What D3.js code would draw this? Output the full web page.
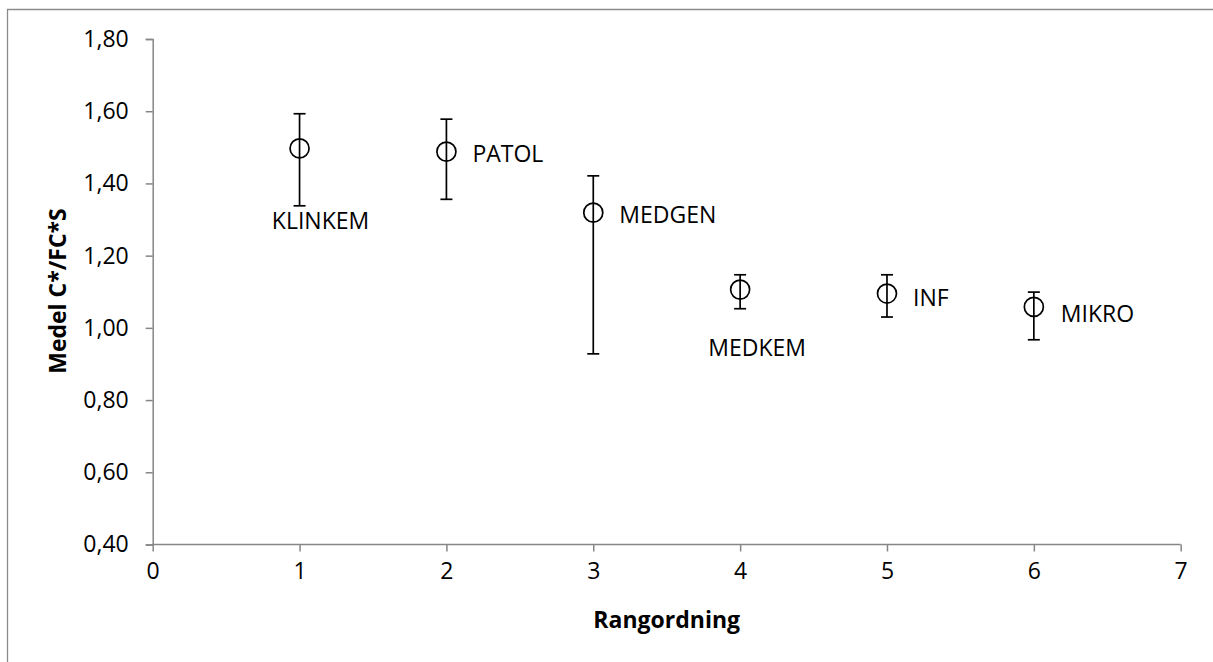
<!DOCTYPE html>
<html>
<head>
<meta charset="utf-8">
<script src="https://cdn.jsdelivr.net/npm/d3@7"></script>
<style>
  body { margin: 0; background: #fff; }
  text { font-family: "Open Sans", "Liberation Sans", sans-serif; fill: #000; }
</style>
</head>
<body>
<div class="chart"></div>
<script>
var width = 1213,
    height = 662;

// data
var categories = ["KLINKEM", "PATOL", "MEDGEN", "MEDKEM", "INF", "MIKRO"];
var ranks = [1, 2, 3, 4, 5, 6];
var means = [1.497, 1.488, 1.319, 1.106, 1.095, 1.058];
var upper = [1.593, 1.578, 1.421, 1.147, 1.147, 1.099];
var lower = [1.338, 1.356, 0.928, 1.053, 1.030, 0.967];
var yTicks = [0.4, 0.6, 0.8, 1.0, 1.2, 1.4, 1.6, 1.8];
var xTicks = [0, 1, 2, 3, 4, 5, 6, 7];

// where each data label sits relative to its point
var labelPos = [
  {dx: 21, dy: 81, anchor: "middle"},
  {dx: 26, dy: 10, anchor: "start"},
  {dx: 26, dy: 10, anchor: "start"},
  {dx: 17, dy: 66, anchor: "middle"},
  {dx: 26, dy: 12, anchor: "start"},
  {dx: 27, dy: 15, anchor: "start"}
];

var axisColor = "#868686";
var fontSize = "23px";

var svg = d3.select(".chart").append("svg")
    .attr("width", width)
    .attr("height", height);

// chart border (only left and top visible in the crop)
svg.append("path")
    .attr("d", "M7.5," + height + "V9.5H" + width)
    .style("fill", "none")
    .style("stroke", "#8c8c8c")
    .style("stroke-width", 1.3);

var x = d3.scaleLinear().domain([0, 7]).range([152.7, 1180.7]);
var y = d3.scaleLinear().domain([0.4, 1.8]).range([544.5, 39]);

var fmt = function(d) { return d3.format(".2f")(d).replace(".", ","); };

// y axis
var yAxis = svg.append("g")
    .attr("transform", "translate(" + x(0) + ",0)")
    .call(d3.axisLeft(y).tickValues(yTicks).tickFormat(fmt).tickSizeOuter(0).tickSize(7).tickPadding(17));

// x axis
var xAxis = svg.append("g")
    .attr("transform", "translate(0," + y(0.4) + ")")
    .call(d3.axisBottom(x).tickValues(xTicks).tickFormat(d3.format("d")).tickSizeOuter(0).tickSize(7).tickPadding(11));

[xAxis, yAxis].forEach(function(g) {
  g.select(".domain").style("stroke", axisColor).style("stroke-width", 1.5);
  g.selectAll(".tick line").style("stroke", axisColor).style("stroke-width", 1.5);
  g.selectAll(".tick text")
    .style("font-size", fontSize)
    .style("font-family", "'Open Sans', sans-serif")
    .attr("fill", "#000");
});
xAxis.select(".domain").attr("d", "M" + x(0) + ",0H" + x(7));

// axis titles
svg.append("text")
    .attr("x", x(3.5))
    .attr("y", 628)
    .attr("text-anchor", "middle")
    .style("font-size", fontSize)
    .style("font-weight", "bold")
    .text("Rangordning");

svg.append("text")
    .attr("transform", "translate(66," + 291 + ") rotate(-90)")
    .attr("text-anchor", "middle")
    .style("font-size", fontSize)
    .style("font-weight", "bold")
    .text("Medel C*/FC*S");

// error bars
var bars = svg.append("g").selectAll("g")
    .data(ranks)
    .enter().append("g");

bars.append("line")
    .attr("x1", d => x(d)).attr("x2", d => x(d))
    .attr("y1", (d, i) => y(upper[i]))
    .attr("y2", (d, i) => y(lower[i]))
    .style("stroke", "#000")
    .style("stroke-width", 1.7);

bars.append("line")
    .attr("x1", d => x(d) - 6).attr("x2", d => x(d) + 6)
    .attr("y1", (d, i) => y(upper[i]))
    .attr("y2", (d, i) => y(upper[i]))
    .style("stroke", "#000")
    .style("stroke-width", 1.7);

bars.append("line")
    .attr("x1", d => x(d) - 6).attr("x2", d => x(d) + 6)
    .attr("y1", (d, i) => y(lower[i]))
    .attr("y2", (d, i) => y(lower[i]))
    .style("stroke", "#000")
    .style("stroke-width", 1.7);

// markers
svg.append("g").selectAll("circle")
    .data(ranks)
    .enter().append("circle")
    .attr("cx", d => x(d))
    .attr("cy", (d, i) => y(means[i]))
    .attr("r", 9.5)
    .style("fill", "none")
    .style("stroke", "#000")
    .style("stroke-width", 1.7);

// data labels
svg.append("g").selectAll("text")
    .data(categories)
    .enter().append("text")
    .attr("x", (d, i) => x(ranks[i]) + labelPos[i].dx)
    .attr("y", (d, i) => y(means[i]) + labelPos[i].dy)
    .attr("text-anchor", (d, i) => labelPos[i].anchor)
    .style("font-size", fontSize)
    .text(d => d);
</script>
</body>
</html>
